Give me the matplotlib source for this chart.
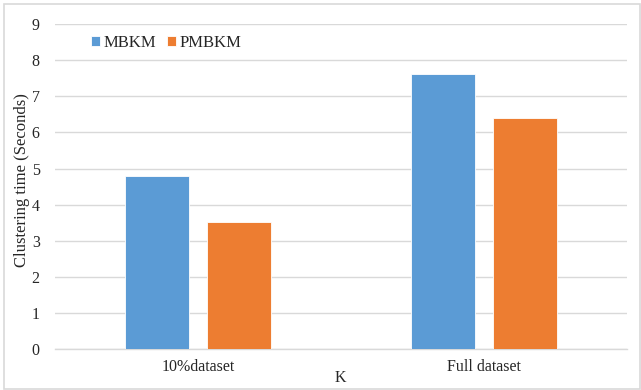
import matplotlib
matplotlib.use("Agg")
import matplotlib.pyplot as plt
from matplotlib.patches import Rectangle
import numpy as np

categories = ["10%dataset", "Full dataset"]
series_names = ["MBKM", "PMBKM"]
mbkm = [4.8, 7.62]
pmbkm = [3.53, 6.4]
y_ticks = [0, 1, 2, 3, 4, 5, 6, 7, 8, 9]

colors = ["#5B9BD5", "#ED7D31"]

plt.rcParams["font.family"] = ["Liberation Serif", "DejaVu Serif"]

fig = plt.figure(figsize=(6.41, 3.90), dpi=100)
ax = fig.add_axes([55 / 641, 1 - 349.3 / 390, (627 - 55) / 641, (349.3 - 24) / 390])

x = np.arange(len(categories))
width = 0.224
offset = 0.1434
for vals, name, col, sign in zip([mbkm, pmbkm], series_names, colors, [-1, 1]):
    ax.bar(x + sign * offset, vals, width, color=col, label=name,
           edgecolor="white", linewidth=0.6, zorder=3)

ax.set_xlim(-0.5, len(categories) - 0.5)
ax.set_ylim(0, 9)
ax.set_yticks(y_ticks)
ax.set_yticklabels([str(t) for t in y_ticks])
ax.set_xticks(x)
ax.set_xticklabels(categories)
ax.tick_params(axis="both", length=0, labelsize=11.5, colors="#262626")
ax.tick_params(axis="y", pad=11)
ax.tick_params(axis="x", pad=7)
ax.grid(axis="y", color="#d9d9d9", linewidth=1.0, zorder=0)
for side in ["top", "right", "left"]:
    ax.spines[side].set_visible(False)
ax.spines["bottom"].set_color("#d9d9d9")
ax.spines["bottom"].set_linewidth(1.0)

ax.set_ylabel("Clustering time (Seconds)", fontsize=12, color="#262626")
ax.yaxis.set_label_coords(-(55 - 30) / 572, (349.3 - 180) / 325.3)
fig.text(340 / 641, 1 - 378 / 390, "K", fontsize=11.5, color="#262626",
         ha="center", va="center")

ax.legend(loc="upper left", bbox_to_anchor=(29 / 572, 1 - 4 / 325.3), ncol=2,
          frameon=False, fontsize=12, handlelength=0.55, handleheight=0.55,
          handletextpad=0.25, columnspacing=0.6, borderaxespad=0,
          labelcolor="#262626")

fig.patches.append(Rectangle((4 / 641, 1 / 390), 636 / 641, 385 / 390,
                             transform=fig.transFigure, fill=False,
                             edgecolor="#d9d9d9", linewidth=1.2))

fig.savefig("out.png", dpi=100)
